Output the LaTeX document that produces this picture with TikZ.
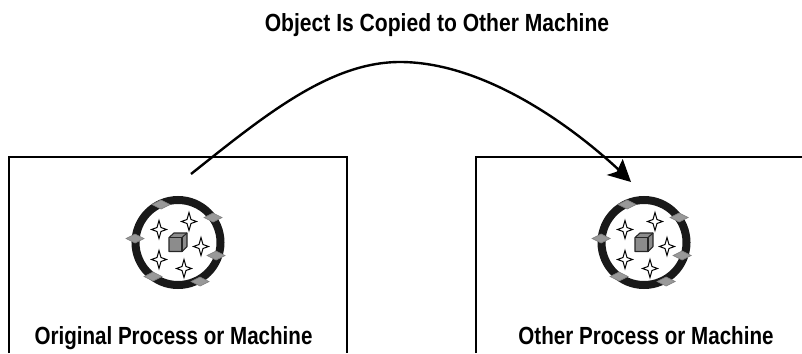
\documentclass[tikz,border=0pt]{standalone}
\usepackage{fontspec}
\setmainfont[FakeStretch=0.85]{Liberation Sans}
\newfontfamily\machinefont[FakeStretch=0.83]{Liberation Sans}
\usepackage{xcolor}
\definecolor{cubegray}{gray}{0.55}
\definecolor{tabgray}{gray}{0.6}
\tikzset{
  titletext/.style={inner sep=0.75pt,anchor=base,font=\fontsize{18.6}{22}\selectfont\bfseries},
  labeltext/.style={inner sep=0.75pt,anchor=base,font=\machinefont\fontsize{18.6}{22}\selectfont\bfseries},
  machinebox/.style={line width=1pt},
  ringline/.style={line width=6pt,color=black!90},
  tabmark/.style={fill=tabgray,draw=black!50,line width=0.5pt},
  sparkmark/.style={fill=white,draw=black,line width=0.75pt,line join=miter},
  cubeface/.style={fill=cubegray,draw=black!85,line width=0.8pt,line join=round}
}
\newcommand{\drawobject}[2]{%
  \begin{scope}[shift={(#1,#2)}]
    \draw[ringline] (0,0) circle (42.5) ;
    \foreach \dx/\dy in {-17/-38,35/-25,-43/-4,38/13,-25/34,22/39}
      \draw[tabmark,shift={(\dx,\dy)}] (-9,0) -- (0,-4.5) -- (9,0) -- (0,4.5) -- cycle ;
    \foreach \dx/\dy in {11/-21,-19/-13,23/4,-19/17,6/26}
      \draw[sparkmark,shift={(\dx,\dy)}] (0,-9) -- (2,-2) -- (7.5,0) -- (2,2) -- (0,9) -- (-2,2) -- (-7.5,0) -- (-2,-2) -- cycle ;
    \draw[cubeface] (-9,-5) -- (-4,-9.5) -- (9,-9.5) -- (9,4) -- (4,9) -- (-9,9) -- cycle ;
    \draw[cubeface] (-9,-5) -- (4,-5) -- (4,9) ;
    \draw[cubeface] (4,-5) -- (9,-9.5) ;
  \end{scope}
}
\begin{document}
\begin{tikzpicture}[x=0.75pt,y=0.75pt,yscale=-1,xscale=1]
\useasboundingbox (0,0) rectangle (802,353);

% boxes, open at the bottom
\draw[machinebox] (9,353) -- (9,157) -- (347,157) -- (347,353) ;
\draw[machinebox] (476,353) -- (476,157) -- (802,157) ;

% objects
\drawobject{178}{242.5}
\drawobject{644}{242.5}

% labels
\node[titletext] (titlelabel) at (437,32) {Object Is Copied to Other Machine};
\node[labeltext] (originlabel) at (173.5,344.5) {Original Process or Machine};
\node[labeltext] (otherlabel) at (646,344.5) {Other Process or Machine};

% copy arrow
\coordinate (copystart) at (191,174);
\coordinate (copypeak) at (400,62);
\coordinate (copyend) at (631,182);
\draw[line width=1.8pt] (copystart) .. controls (265,115) and (330,62) .. (copypeak) .. controls (480,62) and (565,120) .. (619,170) ;
\fill (copyend) -- (606.7,175) -- (616.7,171.7) -- (622.7,159) -- cycle ;

\end{tikzpicture}
\end{document}
